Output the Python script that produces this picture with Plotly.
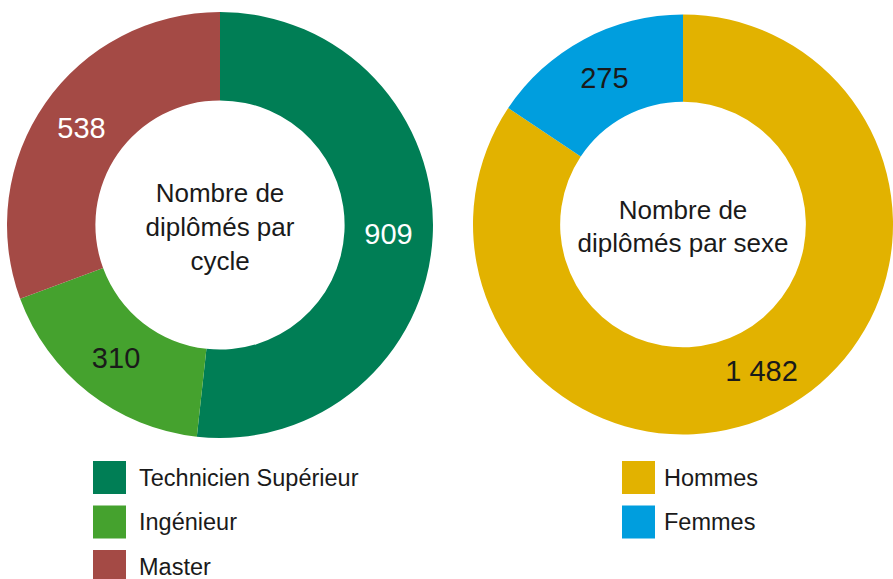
import plotly.graph_objects as go

# Data
cycle_labels = ["Technicien Supérieur", "Ingénieur", "Master"]
cycle_values = [909, 310, 538]
cycle_colors = ["#007E55", "#45A22E", "#A44A45"]
cycle_text_colors = ["#FFFFFF", "#1A1A1A", "#FFFFFF"]

sexe_labels = ["Hommes", "Femmes"]
sexe_values = [1482, 275]
sexe_colors = ["#E2B200", "#009EDE"]
sexe_text_colors = ["#1A1A1A", "#1A1A1A"]

cycle_title = "Nombre de<br>diplômés par<br>cycle"
sexe_title = "Nombre de<br>diplômés par sexe"

W, H = 893, 579
FONT = "Liberation Sans, Arial, sans-serif"

fig = go.Figure()

fig.add_trace(go.Pie(
    labels=cycle_labels, values=cycle_values,
    hole=0.585, sort=False, direction="clockwise", rotation=0,
    marker=dict(colors=cycle_colors, line=dict(width=0)),
    textinfo="value", texttemplate="%{value:,}",
    textposition="inside", insidetextorientation="horizontal",
    insidetextfont=dict(family=FONT, size=29, color=cycle_text_colors),
    title=dict(text=cycle_title, position="middle center",
               font=dict(family=FONT, size=26, color="#1A1A1A")),
    domain=dict(x=[7 / W, 433 / W], y=[1 - 438 / H, 1 - 12 / H]),
    showlegend=False,
))

fig.add_trace(go.Pie(
    labels=sexe_labels, values=sexe_values,
    hole=0.585, sort=False, direction="clockwise", rotation=0,
    marker=dict(colors=sexe_colors, line=dict(width=0)),
    textinfo="value", texttemplate="%{value:,}",
    textposition="inside", insidetextorientation="horizontal",
    insidetextfont=dict(family=FONT, size=29, color=sexe_text_colors),
    title=dict(text=sexe_title, position="middle center",
               font=dict(family=FONT, size=26, color="#1A1A1A")),
    domain=dict(x=[473 / W, 1.0], y=[1 - 437 / H, 1 - 12 / H]),
    showlegend=False,
))

# Custom legends (squares + labels) built from the data lists
shapes = []
annotations = []

def add_legend(labels, colors, x0_px, y0_px, text_x_px):
    sq = 33
    pitch = 44.5
    for i, (lab, col) in enumerate(zip(labels, colors)):
        top = y0_px + i * pitch
        shapes.append(dict(
            type="rect", xref="paper", yref="paper",
            x0=x0_px / W, x1=(x0_px + sq) / W,
            y0=1 - (top + sq) / H, y1=1 - top / H,
            fillcolor=col, line=dict(width=0),
        ))
        annotations.append(dict(
            text=lab, xref="paper", yref="paper",
            x=text_x_px / W, y=1 - (top + sq / 2) / H,
            xanchor="left", yanchor="middle", showarrow=False,
            font=dict(family=FONT, size=23.5, color="#1A1A1A"),
        ))

add_legend(cycle_labels, cycle_colors, 93, 461, 137)
add_legend(sexe_labels, sexe_colors, 622, 461, 662)

fig.update_layout(
    width=W, height=H,
    margin=dict(l=0, r=0, t=0, b=0),
    paper_bgcolor="white", plot_bgcolor="white",
    separators=", ",
    shapes=shapes, annotations=annotations,
    font=dict(family=FONT),
)

fig.write_html("out.html")
